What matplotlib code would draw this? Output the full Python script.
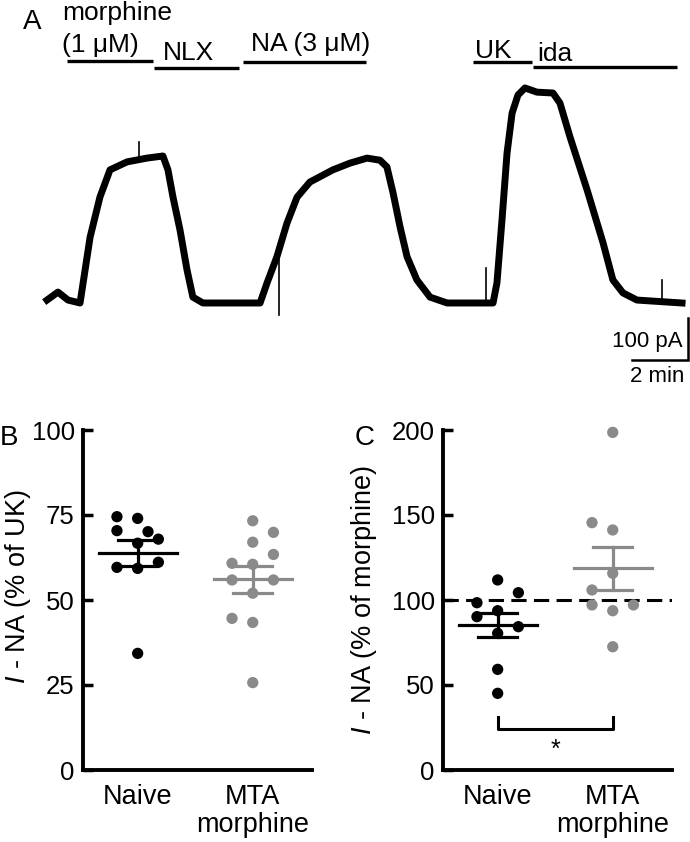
import numpy as np
import matplotlib
matplotlib.use('Agg')
import matplotlib.pyplot as plt

plt.rcParams['font.family'] = ['Liberation Sans', 'DejaVu Sans']
plt.rcParams['mathtext.fontset'] = 'custom'
plt.rcParams['mathtext.rm'] = 'Liberation Sans'
plt.rcParams['mathtext.it'] = 'Liberation Sans:italic'

# ---- panel A: whole-cell current trace (time in min, current in pA) ----
trace_t = [0, 0.39, 0.75, 1.18, 1.54, 1.89, 2.25, 2.86, 3.57, 4.14, 4.32, 4.5, 4.75, 5.0,
           5.21, 5.57, 7.61, 7.86, 8.21, 8.57, 8.93, 9.39, 10.21, 10.82, 11.43, 11.89, 12.14,
           12.36, 12.61, 12.86, 13.21, 13.68, 14.29, 15.93, 16.07, 16.25, 16.43, 16.61, 16.82,
           17.07, 17.5, 18.07, 18.32, 18.68, 19.29, 19.86, 20.21, 20.57, 21.07, 22.68]
trace_i = [7, 26, 7, 0, 157, 252, 317, 336, 345, 350, 317, 252, 174, 79,
           14, 0, 0, 48, 110, 190, 252, 288, 317, 333, 345, 340, 324,
           262, 181, 110, 55, 14, 0, 0, 48, 198, 357, 452, 495,
           512, 502, 500, 476, 395, 269, 143, 55, 24, 7, 0]
# artefact spikes: time, from, to
spike_t = [3.29, 8.29, 15.68, 21.96]
spike_from = [340, 110, 0, 0]
spike_to = [383, -29, 83, 55]

drug_names = ['morphine', 'NLX', 'NA', 'UK', 'ida']
drug_start = [0.71, 3.82, 7.0, 15.21, 17.36]
drug_end = [3.79, 6.86, 11.39, 17.32, 22.5]

# ---- panels B and C ----
groups = ['Naive', 'MTA\nmorphine']
b_naive = [74.5, 74.0, 70.4, 70.1, 67.9, 66.7, 61.1, 59.6, 59.3, 34.3]
b_mta = [73.3, 69.9, 67.0, 63.4, 60.8, 60.5, 55.9, 55.9, 52.0, 44.6, 43.4, 25.7]
c_naive = [111.8, 104.3, 98.4, 90.2, 93.7, 84.3, 80.4, 59.2, 45.1]
c_mta = [198.6, 145.5, 141.2, 115.7, 105.9, 97.1, 97.1, 93.7, 72.5]

# horizontal scatter offsets of the dots (layout)
b_naive_dx = [-0.18, 0, -0.18, 0.09, 0.18, 0, 0.18, -0.18, 0, 0]
b_mta_dx = [0, 0.18, 0, 0.18, -0.18, 0, -0.18, 0.18, 0, -0.18, 0, 0]
c_naive_dx = [0, 0.18, -0.18, -0.18, 0, 0.18, 0, 0, 0]
c_mta_dx = [0, -0.18, 0, 0, -0.18, -0.18, 0.18, 0, 0]

W, H = 690, 842
fig = plt.figure(figsize=(W / 100, H / 100), dpi=100)


def fx(px):
    return px / W


def fy(py):
    return 1 - py / H


# panel A axes, mapped so 28 px = 1 min and 0.42 px = 1 pA
ax_a = fig.add_axes([0, fy(395), 1, 395 / H])
ax_a.set_xlim(-47 / 28, 643 / 28)
ax_a.set_ylim((303 - 395) / 0.42, 303 / 0.42)
ax_a.axis('off')
ax_a.plot(trace_t, trace_i, color='black', lw=5, solid_joinstyle='round')
for t, a, b in zip(spike_t, spike_from, spike_to):
    ax_a.plot([t, t], [a, b], color='black', lw=1.2)

bar_y = [576, 560, 574, 574, 562]
for s, e, y in zip(drug_start, drug_end, bar_y):
    ax_a.plot([s, e], [y, y], color='black', lw=2.4, solid_capstyle='butt')

lab_kw = dict(fontsize=19, va='baseline', ha='left')
ax_a.text(0.54, 673, 'morphine', **lab_kw)
ax_a.text(0.54, 598, '(1 μM)', **lab_kw)
ax_a.text(4.15, 579, drug_names[1], **lab_kw)
ax_a.text(7.3, 600, 'NA (3 μM)', **lab_kw)
ax_a.text(15.3, 583, drug_names[3], **lab_kw)
ax_a.text(17.5, 576, drug_names[4], **lab_kw)

# scale bars
sb_t, sb_i = 22.89, -135.7
ax_a.plot([sb_t - 2, sb_t, sb_t], [sb_i, sb_i, sb_i + 100], color='black', lw=1.8,
          solid_joinstyle='miter')
ax_a.text(22.71, -105, '100 pA', fontsize=16, ha='right', va='baseline')
ax_a.text(22.75, -187, '2 min', fontsize=16, ha='right', va='baseline')

fig.text(fx(23), fy(29), 'A', fontsize=20, va='baseline')


def scatter_panel(ax, left_vals, left_dx, right_vals, right_dx, ymax, yticks, ylabel, lab_x, lab_y):
    ax.set_xlim(-0.475, 1.515)
    ax.set_ylim(0, ymax)
    for pos, vals, dx, col in [(0, left_vals, left_dx, 'black'), (1, right_vals, right_dx, '#8a8a8a')]:
        vals = np.array(vals)
        ax.scatter(pos + np.array(dx), vals, s=66, color=col, edgecolor='none', zorder=3, clip_on=False)
        m = vals.mean()
        sem = vals.std(ddof=1) / np.sqrt(len(vals))
        ax.plot([pos - 0.34, pos + 0.34], [m, m], color=col, lw=2.3, zorder=4)
        ax.plot([pos, pos], [m - sem, m + sem], color=col, lw=2.3, zorder=4)
        for v in (m - sem, m + sem):
            ax.plot([pos - 0.17, pos + 0.17], [v, v], color=col, lw=2.3, zorder=4)
    for side in ['top', 'right']:
        ax.spines[side].set_visible(False)
    for side in ['left', 'bottom']:
        ax.spines[side].set_linewidth(2.8)
    ax.set_yticks(yticks)
    ax.tick_params(axis='y', direction='in', length=7, width=2.5, labelsize=18.5, pad=6)
    ax.set_xticks([0, 1], groups)
    ax.tick_params(axis='x', length=0, labelsize=19.5, pad=10)
    for lbl in ax.get_xticklabels():
        lbl.set_linespacing(1.12)
        lbl.set_va('top')
    ax.set_ylabel(ylabel, fontsize=19.5)
    ax.yaxis.set_label_coords(lab_x, lab_y)


ax_b = fig.add_axes([fx(83), fy(770), 229 / W, 340 / H])
scatter_panel(ax_b, b_naive, b_naive_dx, b_mta, b_mta_dx, 100, [0, 25, 50, 75, 100],
              r'$\mathit{I}$ - NA (% of UK)', -0.22, 0.54)

ax_c = fig.add_axes([fx(443), fy(770), 229 / W, 340 / H])
scatter_panel(ax_c, c_naive, c_naive_dx, c_mta, c_mta_dx, 200, [0, 50, 100, 150, 200],
              r'$\mathit{I}$ - NA (% of morphine)', -0.28, 0.5)
ax_c.axhline(100, color='black', lw=2.2, dashes=(5, 2.4), zorder=2)
ax_c.plot([0, 0, 1, 1], [31.4, 23.9, 23.9, 31.4], color='black', lw=2.2)
ax_c.text(0.5, 8, '*', fontsize=18, ha='center', va='baseline')

fig.text(0, fy(445), 'B', fontsize=20, va='baseline')
fig.text(fx(355), fy(445), 'C', fontsize=20, va='baseline')

fig.savefig('out.png', dpi=100)
